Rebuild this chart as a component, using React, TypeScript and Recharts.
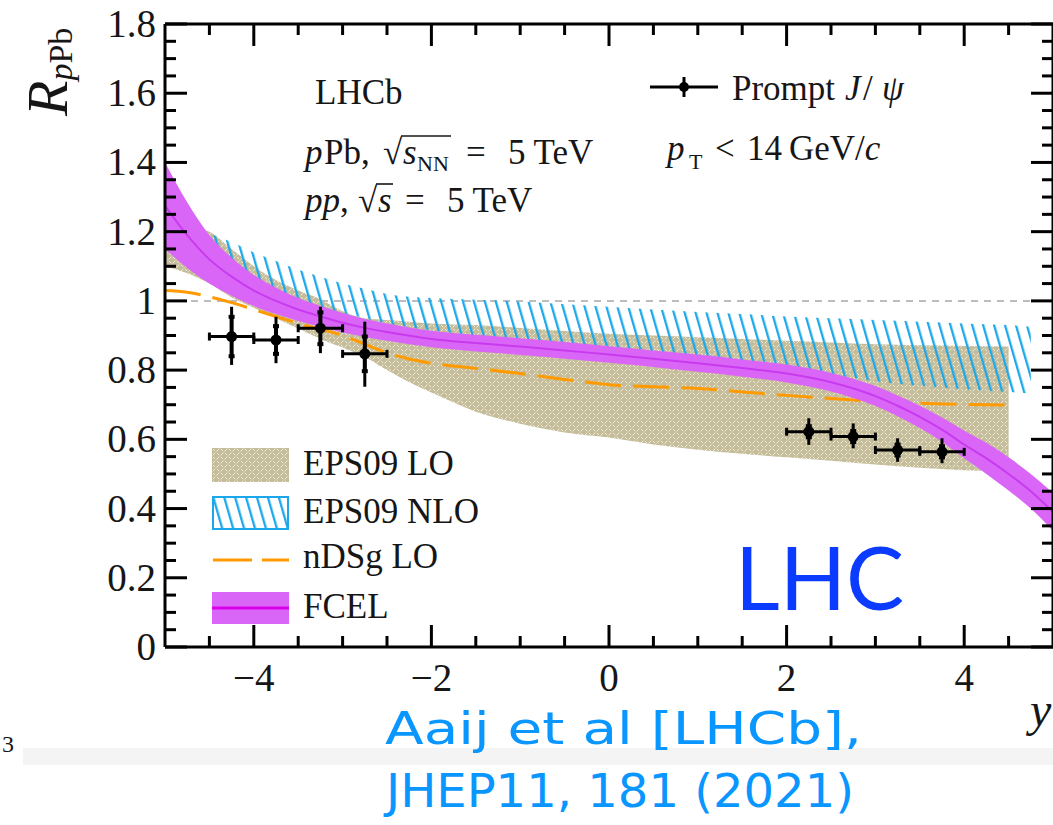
import React from 'react';
import { ComposedChart, Area, XAxis, YAxis, Scatter, ErrorBar, ReferenceLine } from 'recharts';

// ---------------- data ----------------
// EPS09 LO band (tan)
const eps09LoX = [-5, -4.75, -4.5, -4.25, -4, -3.75, -3.5, -3.25, -3, -2.75, -2.5, -2.25, -2, -1.5, -1, -0.5, 0, 0.5, 1, 1.5, 2, 2.5, 3, 3.5, 4, 4.5];
const eps09LoLow = [1.1, 1.08, 1.05, 1.01, 0.98, 0.95, 0.92, 0.89, 0.865, 0.838, 0.8, 0.765, 0.735, 0.68, 0.645, 0.62, 0.605, 0.585, 0.57, 0.558, 0.548, 0.538, 0.527, 0.518, 0.511, 0.507];
const eps09LoHigh = [1.22, 1.215, 1.2, 1.15, 1.1, 1.06, 1.03, 1.005, 0.97, 0.95, 0.945, 0.94, 0.935, 0.93, 0.922, 0.913, 0.905, 0.9, 0.895, 0.89, 0.885, 0.88, 0.875, 0.872, 0.87, 0.868];

// EPS09 NLO band (blue hatch)
const eps09NloX = [-4.6, -4.5, -4.25, -4, -3.75, -3.5, -3.25, -3, -2.75, -2.5, -2, -1.5, -1, -0.5, 0, 0.5, 1, 1.5, 2, 2.5, 3, 3.5, 4, 4.5, 4.75];
const eps09NloLow = [1.07, 1.065, 1.05, 1.035, 1.015, 0.995, 0.98, 0.965, 0.95, 0.935, 0.915, 0.9, 0.888, 0.876, 0.865, 0.852, 0.838, 0.822, 0.805, 0.787, 0.768, 0.755, 0.745, 0.737, 0.733];
const eps09NloHigh = [1.205, 1.195, 1.17, 1.14, 1.115, 1.09, 1.07, 1.05, 1.035, 1.02, 1.008, 1.003, 0.998, 0.99, 0.983, 0.975, 0.968, 0.962, 0.955, 0.95, 0.945, 0.94, 0.935, 0.93, 0.925];

// nDSg LO (orange dashed)
const ndsgX = [-5, -4.75, -4.5, -4.25, -4, -3.75, -3.5, -3.25, -3, -2.75, -2.5, -2.25, -2, -1.5, -1, -0.5, 0, 0.5, 1, 1.5, 2, 2.5, 3, 3.5, 4, 4.5];
const ndsgY = [1.03, 1.025, 1.012, 0.995, 0.975, 0.955, 0.935, 0.918, 0.9, 0.875, 0.85, 0.832, 0.82, 0.805, 0.79, 0.773, 0.758, 0.752, 0.747, 0.737, 0.727, 0.718, 0.71, 0.704, 0.701, 0.699];

// FCEL (purple band: centre and half width)
const fcelX = [-5, -4.75, -4.5, -4.25, -4, -3.75, -3.5, -3.25, -3, -2.75, -2.5, -2, -1.5, -1, -0.5, 0, 0.5, 1, 1.5, 2, 2.5, 3, 3.25, 3.5, 3.75, 4, 4.25, 4.5, 4.75, 5];
const fcelC = [1.275, 1.19, 1.12, 1.07, 1.03, 1.0, 0.975, 0.955, 0.937, 0.922, 0.91, 0.89, 0.878, 0.868, 0.857, 0.845, 0.833, 0.82, 0.806, 0.79, 0.765, 0.725, 0.697, 0.665, 0.628, 0.585, 0.545, 0.5, 0.45, 0.39];
const fcelHalf = [0.125, 0.095, 0.07, 0.055, 0.045, 0.038, 0.033, 0.03, 0.028, 0.026, 0.025, 0.024, 0.024, 0.024, 0.024, 0.024, 0.024, 0.025, 0.025, 0.026, 0.027, 0.029, 0.03, 0.032, 0.035, 0.04, 0.045, 0.048, 0.05, 0.055];

// LHCb prompt J/psi points
const jpsiX = [-4.25, -3.75, -3.25, -2.75, 2.25, 2.75, 3.25, 3.75];
const jpsiY = [0.897, 0.887, 0.921, 0.847, 0.622, 0.608, 0.569, 0.564];
const jpsiXErr = [0.25, 0.25, 0.25, 0.25, 0.25, 0.25, 0.25, 0.25];
const jpsiStat = [0.057, 0.04, 0.046, 0.05, 0.016, 0.016, 0.016, 0.016];
const jpsiTotLow = [0.082, 0.067, 0.072, 0.095, 0.038, 0.034, 0.034, 0.033];
const jpsiTotHigh = [0.086, 0.067, 0.062, 0.093, 0.039, 0.038, 0.034, 0.039];

// ticks
const xTicks = [-4.5, -4, -3.5, -3, -2.5, -2, -1.5, -1, -0.5, 0, 0.5, 1, 1.5, 2, 2.5, 3, 3.5, 4, 4.5];
const xLabelled = [-4, -2, 0, 2, 4];
const yLabelled = [0, 0.2, 0.4, 0.6, 0.8, 1, 1.2, 1.4, 1.6, 1.8];
const yTicks = Array.from({ length: 37 }, (_, i) => Math.round(i * 5) / 100);

// ---------------- table ----------------
type Row = { x: number; [k: string]: any };
function buildTable(): Row[] {
  const map = new Map<number, Row>();
  const put = (xs: number[], key: string, vals: any[]) =>
    xs.forEach((x, i) => {
      const r = map.get(x) ?? { x };
      r[key] = vals[i];
      map.set(x, r);
    });
  put(eps09LoX, 'lo', eps09LoX.map((_, i) => [eps09LoLow[i], eps09LoHigh[i]]));
  put(eps09NloX, 'nlo', eps09NloX.map((_, i) => [eps09NloLow[i], eps09NloHigh[i]]));
  put(ndsgX, 'nd', ndsgY);
  put(fcelX, 'fcBand', fcelX.map((_, i) => [fcelC[i] - fcelHalf[i], fcelC[i] + fcelHalf[i]]));
  put(fcelX, 'fc', fcelC);
  return [...map.values()].sort((a, b) => a.x - b.x);
}
const table = buildTable();
const jpsiData = jpsiX.map((x, i) => ({
  x,
  y: jpsiY[i],
  ex: jpsiXErr[i],
  eTot: [jpsiTotLow[i], jpsiTotHigh[i]],
  eStat: jpsiStat[i],
}));

// ---------------- styling ----------------
const SERIF = '"Liberation Serif", "Times New Roman", serif';
const INK = '#161616';
const MAJOR = 22;
const MINOR = 11;
const near = (a: number, b: number) => Math.abs(a - b) < 1e-6;
const fmtX = (v: number) => (v < 0 ? '\u2212' + Math.abs(v) : String(v));
const fmtY = (v: number) => (near(v, 0) ? '0' : near(v, 1) ? '1' : v.toFixed(1));

function BottomTick(props: any) {
  const { x, y, payload } = props;
  const v = payload.value as number;
  const major = xLabelled.some((t) => near(t, v));
  return (
    <g>
      <line x1={x} y1={y} x2={x} y2={y - (major ? MAJOR : MINOR)} stroke="#000" strokeWidth={3} />
      {major && (
        <text x={x} y={y + 44} textAnchor="middle" fontFamily={SERIF} fontSize={39} fill={INK}>
          {fmtX(v)}
        </text>
      )}
    </g>
  );
}
function TopTick(props: any) {
  const { x, y, payload } = props;
  const v = payload.value as number;
  const major = xLabelled.some((t) => near(t, v));
  return <line x1={x} y1={y} x2={x} y2={y + (major ? MAJOR : MINOR)} stroke="#000" strokeWidth={3} />;
}
function LeftTick(props: any) {
  const { x, y, payload } = props;
  const v = payload.value as number;
  const major = yLabelled.some((t) => near(t, v));
  return (
    <g>
      <line x1={x} y1={y} x2={x + (major ? MAJOR : MINOR)} y2={y} stroke="#000" strokeWidth={3} />
      {major && (
        <text x={x - 9} y={y + 13} textAnchor="end" fontFamily={SERIF} fontSize={39} fill={INK}>
          {fmtY(v)}
        </text>
      )}
    </g>
  );
}
function RightTick(props: any) {
  const { x, y, payload } = props;
  const v = payload.value as number;
  const major = yLabelled.some((t) => near(t, v));
  return <line x1={x} y1={y} x2={x - (major ? MAJOR : MINOR)} y2={y} stroke="#000" strokeWidth={3} />;
}

const TAN = '#c5bc99';
const BLUE = '#1ba7ea';
const PURPLE = '#da66f8';
const PURPLE_LINE = '#c83aee';
const ORANGE = '#ff9a00';
const CITE = '#0a96ff';

function Patterns({ suffix }: { suffix: string }) {
  return (
    <defs>
      <pattern id={'tanWeave' + suffix} patternUnits="userSpaceOnUse" width="8" height="8">
        <rect width="8" height="8" fill={TAN} />
        <path d="M0.5 3.5 L3.5 0.5 M4.5 7.5 L7.5 4.5 M1 5 L3 7 M5 1 L7 3" stroke="#eeeadc" strokeWidth="1" fill="none" />
      </pattern>
      <pattern id={'blueHatch' + suffix} patternUnits="userSpaceOnUse" width="10.5" height="10" patternTransform="rotate(-16)">
        <line x1="5" y1="-1" x2="5" y2="11" stroke={BLUE} strokeWidth="2.3" />
      </pattern>
    </defs>
  );
}

export default function App() {
  return (
    <div style={{ position: 'absolute', left: 0, top: 0, width: 1053, height: 825, overflow: 'hidden', background: '#fff' }}>
      <ComposedChart width={1055} height={825} data={table} margin={{ top: 23, right: 0, bottom: 118, left: 105 }}>
        <Patterns suffix="" />
        <ReferenceLine y={1} stroke="#bdbdbd" strokeWidth={2} strokeDasharray="7 6" ifOverflow="visible" zIndex={50} />
        <Area dataKey="lo" type="monotone" fill="url(#tanWeave)" fillOpacity={1} stroke="none" connectNulls dot={false} activeDot={false} isAnimationActive={false} />
        <Area dataKey="nlo" type="monotone" fill="url(#blueHatch)" fillOpacity={1} stroke="none" connectNulls dot={false} activeDot={false} isAnimationActive={false} />
        <Area dataKey="nd" type="monotone" fill="none" stroke={ORANGE} strokeWidth={3} strokeDasharray="36 12" connectNulls dot={false} activeDot={false} isAnimationActive={false} />
        <Area dataKey="fcBand" type="monotone" fill={PURPLE} fillOpacity={1} stroke="none" connectNulls dot={false} activeDot={false} isAnimationActive={false} />
        <Area dataKey="fc" type="monotone" fill="none" stroke={PURPLE_LINE} strokeWidth={2} connectNulls dot={false} activeDot={false} isAnimationActive={false} />
        <Scatter
          data={jpsiData}
          dataKey="y"
          fill="#000"
          isAnimationActive={false}
          shape={(p: any) => <circle cx={p.cx} cy={p.cy} r={5.5} fill="#000" />}
        >
          <ErrorBar dataKey="ex" direction="x" width={4} stroke="#000" strokeWidth={3} isAnimationActive={false} />
          <ErrorBar dataKey="eTot" direction="y" width={0} stroke="#000" strokeWidth={3} isAnimationActive={false} />
          <ErrorBar dataKey="eStat" direction="y" width={3} stroke="#000" strokeWidth={4} isAnimationActive={false} />
        </Scatter>
        <XAxis dataKey="x" type="number" domain={[-5, 5]} ticks={xTicks} interval={0} allowDataOverflow
          axisLine={{ stroke: '#000', strokeWidth: 3 }} tickLine={false} tickSize={0} tickMargin={0} height={60} tick={BottomTick} />
        <XAxis xAxisId="top" orientation="top" dataKey="x" type="number" domain={[-5, 5]} ticks={xTicks} interval={0} allowDataOverflow
          axisLine={{ stroke: '#000', strokeWidth: 3 }} tickLine={false} tickSize={0} tickMargin={0} height={1} tick={TopTick} />
        <YAxis type="number" domain={[0, 1.8]} ticks={yTicks} interval={0} allowDataOverflow
          axisLine={{ stroke: '#000', strokeWidth: 3 }} tickLine={false} tickSize={0} tickMargin={0} width={60} tick={LeftTick} />
        <YAxis yAxisId="right" orientation="right" type="number" domain={[0, 1.8]} ticks={yTicks} interval={0} allowDataOverflow
          axisLine={{ stroke: '#000', strokeWidth: 3 }} tickLine={false} tickSize={0} tickMargin={0} width={2} tick={RightTick} />
      </ComposedChart>

      <svg width={1053} height={825} style={{ position: 'absolute', left: 0, top: 0, pointerEvents: 'none' }}>
        <Patterns suffix="L" />
        {/* y-axis title */}
        <text transform="translate(67,116) rotate(-90)" fontFamily={SERIF} fill={INK}>
          <tspan fontSize={58} fontStyle="italic">R</tspan>
          <tspan fontSize={34} fontStyle="italic" dy={5}>p</tspan>
          <tspan fontSize={34}>Pb</tspan>
        </text>
        {/* x-axis title */}
        <text x={1030} y={726} fontFamily={SERIF} fontSize={48} fontStyle="italic" fill={INK}>y</text>

        {/* experiment info */}
        <text x={315} y={104} fontFamily={SERIF} fontSize={35} fill={INK}>LHCb</text>
        <text y={164} fontFamily={SERIF} fontSize={35} fill={INK}>
          <tspan x={305} fontStyle="italic">p</tspan>
          <tspan x={324}>Pb,</tspan>
          <tspan x={383}>{'\u221A'}</tspan>
          <tspan x={403} fontStyle="italic">s</tspan>
          <tspan x={417} fontSize={22} dy={7}>NN</tspan>
          <tspan x={466} dy={-7}>=</tspan>
          <tspan x={508}>5 TeV</tspan>
        </text>
        <line x1={401} y1={136} x2={451} y2={136} stroke={INK} strokeWidth={1.6} />
        <text y={212} fontFamily={SERIF} fontSize={35} fill={INK}>
          <tspan x={305} fontStyle="italic">pp</tspan>
          <tspan>,</tspan>
          <tspan x={358}>{'\u221A'}</tspan>
          <tspan x={378} fontStyle="italic">s</tspan>
          <tspan x={405}>=</tspan>
          <tspan x={447}>5 TeV</tspan>
        </text>
        <line x1={376} y1={184} x2={393} y2={184} stroke={INK} strokeWidth={1.6} />

        {/* data legend */}
        <line x1={650} y1={87} x2={718} y2={87} stroke="#000" strokeWidth={3} />
        <line x1={684} y1={77} x2={684} y2={97} stroke="#000" strokeWidth={3} />
        <circle cx={684} cy={87} r={5} fill="#000" />
        <text y={100} fontFamily={SERIF} fontSize={35} fill={INK}>
          <tspan x={732}>Prompt</tspan>
          <tspan x={845} fontStyle="italic">J</tspan>
          <tspan x={863}>/</tspan>
          <tspan x={882} fontStyle="italic">{'\u03C8'}</tspan>
        </text>
        <text y={160} fontFamily={SERIF} fontSize={35} fill={INK}>
          <tspan x={667} fontStyle="italic">p</tspan>
          <tspan x={689} fontSize={22} dy={9}>T</tspan>
          <tspan x={715} dy={-9}>{'<'}</tspan>
          <tspan x={747}>14</tspan>
          <tspan x={789}>GeV/</tspan>
          <tspan fontStyle="italic">c</tspan>
        </text>

        {/* model legend */}
        <rect x={212} y={448} width={77} height={34} fill="url(#tanWeaveL)" />
        <rect x={213} y={497} width={75} height={32} fill="url(#blueHatchL)" stroke={BLUE} strokeWidth={2} />
        <line x1={213} y1={560} x2={289} y2={560} stroke={ORANGE} strokeWidth={3} strokeDasharray="39 10" />
        <rect x={212} y={592} width={77} height={32} fill={PURPLE} />
        <line x1={212} y1={608} x2={289} y2={608} stroke="#d800ec" strokeWidth={3} />
        <text x={303} y={475} fontFamily={SERIF} fontSize={35} fill={INK}>EPS09 LO</text>
        <text x={303} y={523} fontFamily={SERIF} fontSize={35} fill={INK}>EPS09 NLO</text>
        <text x={303} y={568} fontFamily={SERIF} fontSize={35} fill={INK}>nDSg LO</text>
        <text x={303} y={618} fontFamily={SERIF} fontSize={35} fill={INK}>FCEL</text>

        {/* big label */}
        <text x={735} y={610} fontFamily="Lato, 'DejaVu Sans', sans-serif" fontSize={87} fill="#0b3bff">LHC</text>

        {/* citation */}
        <rect x={23} y={748} width={1030} height={17} fill="#f4f4f4" />
        <text x={2} y={752} fontFamily={SERIF} fontSize={24} fill={INK}>3</text>
        <text x={385} y={744} textLength={477} lengthAdjust="spacingAndGlyphs" fontFamily="'DejaVu Sans', sans-serif" fontSize={45} fill={CITE}>
          Aaij et al [LHCb],
        </text>
        <text x={386} y={807} textLength={468} lengthAdjust="spacingAndGlyphs" fontFamily="'DejaVu Sans', sans-serif" fontSize={47} fill={CITE}>
          JHEP11, 181 (2021)
        </text>
      </svg>
    </div>
  );
}
